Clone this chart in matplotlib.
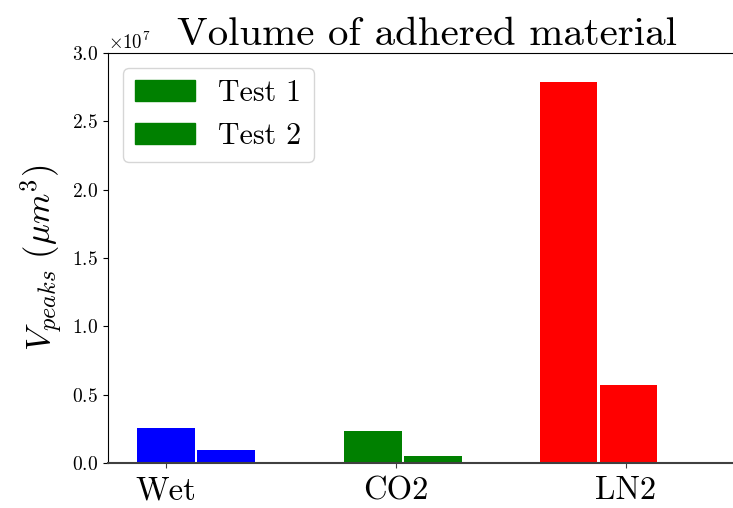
#volume of adhered material - bar chart
import matplotlib
matplotlib.use("Agg")
import matplotlib.pyplot as plt
from matplotlib.patches import Patch

#fonte estilo latex
plt.rcParams['font.family'] = 'serif'
plt.rcParams['font.serif'] = ['cmr10']
plt.rcParams['mathtext.fontset'] = 'cm'
plt.rcParams['axes.formatter.use_mathtext'] = True
plt.rcParams['axes.unicode_minus'] = False

#dados
categorias = ['Wet', 'CO2', 'LN2']
cores = ['blue', 'green', 'red']
test1 = [2.56e6, 2.34e6, 2.79e7]
test2 = [0.95e6, 0.51e6, 5.71e6]
pos1 = [0, 0.9, 1.75]
pos2 = [0.26, 1.16, 2.01]
largura = 0.25

fig = plt.figure(figsize=(7.33, 5.08), dpi=100)
ax = fig.add_axes([0.1473, 0.0886, 0.8527, 0.8071])

for i in range(3):
    ax.bar(pos1[i], test1[i], largura, color=cores[i])
    ax.bar(pos2[i], test2[i], largura, color=cores[i])

ax.set_xlim(-0.252, 2.465)
ax.set_ylim(0, 3.0e7)
ax.set_xticks([0, 1, 2])
ax.set_xticklabels(categorias, fontsize=23.5)
ax.tick_params(axis='y', labelsize=14)
ax.tick_params(axis='x', colors='#404040', labelcolor='black', pad=6)
ax.spines['right'].set_visible(False)
ax.spines['bottom'].set_color('#404040')
ax.spines['bottom'].set_linewidth(1.5)
ax.yaxis.get_offset_text().set_fontsize(13.5)

ax.set_title('Volume of adhered material', fontsize=29.5, x=0.51)
ax.set_ylabel(r'$V_{peaks}\ (\mu m^3)$', fontsize=25, labelpad=6)

legenda = [Patch(color='green', label='Test 1'), Patch(color='green', label='Test 2')]
ax.legend(handles=legenda, loc='upper left', fontsize=21.5)

fig.savefig('out.png', dpi=100)
